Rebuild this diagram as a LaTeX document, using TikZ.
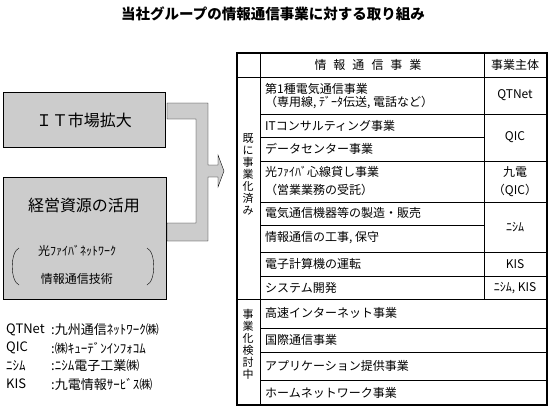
\documentclass[tikz,border=0pt]{standalone}
\usepackage{fontspec}
\setmainfont{Noto Sans CJK JP}
\begin{document}
\begin{tikzpicture}[x=1pt,y=-1pt,
    cell/.style={anchor=west,inner sep=0pt,font=\fontsize{12}{14}\selectfont},
    who/.style={inner sep=0pt,font=\fontsize{12}{14}\selectfont},
    vert/.style={inner sep=0pt,align=center,font=\fontsize{11}{12}\selectfont},
    legend/.style={anchor=west,inner sep=0pt,font=\fontsize{13}{15}\selectfont}]
    \useasboundingbox (0,0) rectangle (550,410);
    \node[font=\fontsize{14.5}{16}\selectfont\bfseries] (title) at (273,14) {当社グループの情報通信事業に対する取り組み};
    % left side
    \draw[fill=gray!40] (3,92) rectangle (165,147);
    \node[font=\fontsize{16}{18}\selectfont] (market) at (84,120) {ＩＴ市場拡大};
    \draw[fill=gray!40] (3,177) rectangle (166,299);
    \node[font=\fontsize{16}{18}\selectfont] (resource) at (84,205) {経営資源の活用};
    \node[font=\fontsize{12}{14}\selectfont] (fiber) at (77,251) {光ﾌｧｲﾊﾞﾈｯﾄﾜｰｸ};
    \node[font=\fontsize{12}{14}\selectfont] (ictech) at (77,279) {情報通信技術};
    \draw (19,248) .. controls (10,252) and (10,281) .. (19,285);
    \draw (147,248) .. controls (156,252) and (156,281) .. (147,285);
    \draw[fill=gray!40] (167,103) -- (208,103) -- (208,165) -- (218,165) -- (218,155) -- (224,171)
        -- (218,187) -- (218,177) -- (208,177) -- (208,241) -- (167,241) -- (167,223)
        -- (196,223) -- (196,119) -- (167,119) -- cycle;
    % table
    \draw[line width=1.2pt] (237,53) rectangle (547,405);
    \draw (260,53) -- (260,405);
    \draw (484,53) -- (484,299);
    \draw (237,77) -- (547,77);
    \draw (237,299) -- (547,299);
    \foreach \y in {114,161,202,252,276,328,352,380}
        \draw (260,\y) -- (547,\y);
    \foreach \y in {137,225}
        \draw (260,\y) -- (484,\y);
    \node[who] (head) at (368,65) {情\hspace{7pt}報\hspace{7pt}通\hspace{7pt}信\hspace{7pt}事\hspace{7pt}業};
    \node[who] (headwho) at (515,65) {事業主体};
    \node[vert] (done) at (248,174) {既\\に\\事\\業\\化\\済\\み};
    \node[vert] (study) at (248,344) {事\\業\\化\\検\\討\\中};
    \node[cell] (r1) at (265,89) {第1種電気通信事業};
    \node[cell] (r1b) at (265,103) {（専用線, ﾃﾞｰﾀ伝送, 電話など）};
    \node[cell] (r2) at (265,126) {ITコンサルティング事業};
    \node[cell] (r3) at (265,149) {データセンター事業};
    \node[cell] (r4) at (265,172) {光ﾌｧｲﾊﾞ心線貸し事業};
    \node[cell] (r4b) at (265,190) {（営業業務の受託）};
    \node[cell] (r5) at (265,213) {電気通信機器等の製造・販売};
    \node[cell] (r6) at (265,238) {情報通信の工事, 保守};
    \node[cell] (r7) at (265,264) {電子計算機の運転};
    \node[cell] (r8) at (265,288) {システム開発};
    \node[cell] (r9) at (265,313) {高速インターネット事業};
    \node[cell] (r10) at (265,340) {国際通信事業};
    \node[cell] (r11) at (265,366) {アプリケーション提供事業};
    \node[cell] (r12) at (265,393) {ホームネットワーク事業};
    \node[who] (qtnet) at (515,95) {QTNet};
    \node[who] (qic) at (515,137) {QIC};
    \node[who] (kyuden) at (515,172) {九電};
    \node[who] (kyudenb) at (515,190) {（QIC）};
    \node[who] (nishim) at (515,227) {ﾆｼﾑ};
    \node[who] (kis) at (515,264) {KIS};
    \node[who] (both) at (515,288) {ﾆｼﾑ, KIS};
    % legend
    \node[legend] (kqt) at (6,330) {QTNet};
    \node[legend] (kqic) at (6,348) {QIC};
    \node[legend] (knis) at (6,366) {ﾆｼﾑ};
    \node[legend] (kkis) at (6,384) {KIS};
    \node[legend] (vqt) at (51,330) {:九州通信ﾈｯﾄﾜｰｸ㈱};
    \node[legend] (vqic) at (51,348) {:㈱ｷｭｰﾃﾞﾝｲﾝﾌｫｺﾑ};
    \node[legend] (vnis) at (51,366) {:ﾆｼﾑ電子工業㈱};
    \node[legend] (vkis) at (51,384) {:九電情報ｻｰﾋﾞｽ㈱};
\end{tikzpicture}
\end{document}
